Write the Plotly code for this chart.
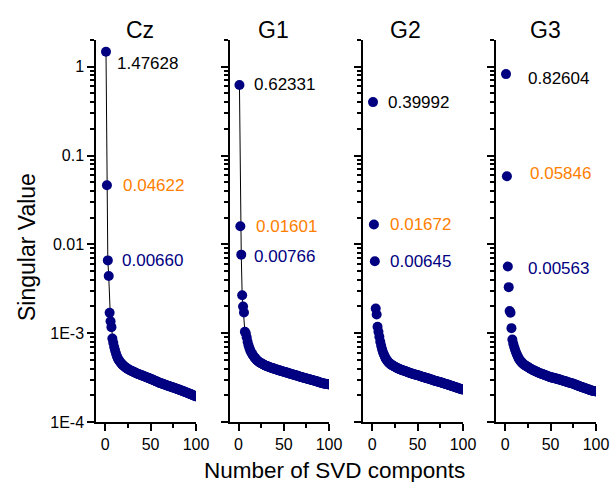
import math
import plotly.graph_objects as go

# ---------------- data ----------------
panel_names = ["Cz", "G1", "G2", "G3"]

cz_head = [1.47628, 0.04622, 0.00660, 0.0044, 0.0017, 0.00136, 0.00117, 0.00087]
cz_tail_e4 = [7.8, 7.0, 6.4, 5.9, 5.5, 5.2, 5.0, 4.82, 4.67, 4.54,
              4.43, 4.33, 4.24, 4.16, 4.09, 4.02, 3.96, 3.90, 3.85, 3.80,
              3.76, 3.72, 3.68, 3.64, 3.60, 3.56, 3.52, 3.48, 3.45, 3.42,
              3.39, 3.36, 3.33, 3.30, 3.27, 3.24, 3.21, 3.18, 3.15, 3.12,
              3.09, 3.06, 3.03, 3.00, 2.97, 2.94, 2.91, 2.88, 2.85, 2.82,
              2.79, 2.76, 2.74, 2.72, 2.70, 2.67, 2.65, 2.63, 2.61, 2.58,
              2.56, 2.54, 2.52, 2.50, 2.48, 2.46, 2.44, 2.42, 2.40, 2.38,
              2.36, 2.34, 2.32, 2.30, 2.28, 2.26, 2.24, 2.22, 2.20, 2.18,
              2.16, 2.14, 2.12, 2.10, 2.08, 2.06, 2.04, 2.02, 2.00, 1.98,
              1.96, 1.94]

g1_head = [0.62331, 0.01601, 0.00766, 0.00267, 0.0020, 0.00171]
g1_tail_e4 = [10.4, 10.0, 9.0, 8.0, 7.3, 6.8, 6.4, 6.1, 5.85, 5.65,
              5.45, 5.3, 5.15, 5.0, 4.9, 4.8, 4.72, 4.65, 4.58, 4.52,
              4.46, 4.41, 4.36, 4.31, 4.27, 4.23, 4.19, 4.15, 4.11, 4.08,
              4.05, 4.02, 3.99, 3.96, 3.93, 3.90, 3.87, 3.84, 3.81, 3.79,
              3.76, 3.73, 3.71, 3.68, 3.65, 3.63, 3.60, 3.58, 3.55, 3.53,
              3.50, 3.48, 3.45, 3.43, 3.40, 3.38, 3.36, 3.33, 3.31, 3.29,
              3.26, 3.24, 3.22, 3.20, 3.17, 3.15, 3.13, 3.11, 3.09, 3.07,
              3.05, 3.03, 3.01, 2.99, 2.97, 2.95, 2.93, 2.91, 2.89, 2.87,
              2.85, 2.83, 2.81, 2.79, 2.77, 2.75, 2.73, 2.71, 2.70, 2.69,
              2.68, 2.67, 2.66, 2.65]

g2_head = [0.39992, 0.01672, 0.00645, 0.0019, 0.00162]
g2_tail_e4 = [11.8, 10.4, 9.1, 8.0, 7.2, 6.6, 6.1, 5.75, 5.45, 5.2,
              5.0, 4.85, 4.7, 4.6, 4.5, 4.43, 4.37, 4.3, 4.24, 4.18,
              4.13, 4.08, 4.03, 3.99, 3.95, 3.91, 3.87, 3.84, 3.81, 3.78,
              3.75, 3.72, 3.69, 3.65, 3.62, 3.59, 3.56, 3.53, 3.50, 3.47,
              3.45, 3.42, 3.40, 3.38, 3.37, 3.34, 3.31, 3.29, 3.26, 3.24,
              3.21, 3.19, 3.17, 3.14, 3.12, 3.10, 3.08, 3.05, 3.03, 3.01,
              2.99, 2.96, 2.94, 2.92, 2.90, 2.88, 2.86, 2.84, 2.82, 2.80,
              2.78, 2.76, 2.74, 2.72, 2.70, 2.68, 2.66, 2.64, 2.62, 2.60,
              2.58, 2.56, 2.54, 2.52, 2.50, 2.48, 2.46, 2.44, 2.42, 2.40,
              2.38, 2.36, 2.34, 2.33, 2.32]

g3_head = [0.82604, 0.05846, 0.00563, 0.0033, 0.00178, 0.0017, 0.00114, 0.00085]
g3_tail_e4 = [7.6, 7.0, 6.5, 6.1, 5.75, 5.45, 5.2, 5.0, 4.85, 4.72,
              4.6, 4.5, 4.42, 4.35, 4.28, 4.22, 4.16, 4.10, 4.04, 3.98,
              3.93, 3.88, 3.83, 3.79, 3.75, 3.71, 3.67, 3.63, 3.59, 3.55,
              3.52, 3.49, 3.46, 3.43, 3.40, 3.37, 3.34, 3.31, 3.28, 3.25,
              3.22, 3.20, 3.18, 3.16, 3.14, 3.12, 3.10, 3.08, 3.06, 3.04,
              3.02, 3.00, 2.98, 2.96, 2.94, 2.92, 2.90, 2.87, 2.85, 2.83,
              2.81, 2.79, 2.77, 2.75, 2.73, 2.71, 2.69, 2.66, 2.64, 2.62,
              2.59, 2.57, 2.55, 2.53, 2.50, 2.48, 2.46, 2.44, 2.42, 2.40,
              2.38, 2.36, 2.34, 2.32, 2.30, 2.28, 2.26, 2.25, 2.24, 2.23,
              2.22, 2.21]

label_texts = {
    "Cz": ["1.47628", "0.04622", "0.00660"],
    "G1": ["0.62331", "0.01601", "0.00766"],
    "G2": ["0.39992", "0.01672", "0.00645"],
    "G3": ["0.82604", "0.05846", "0.00563"],
}

y_tick_vals = [1e-4, 1e-3, 1e-2, 1e-1, 1]
y_tick_text = ["1E-4", "1E-3", "0.01", "0.1", "1"]
x_tick_vals = [0, 50, 100]
x_minor_vals = [25, 75]

# ---------------- styling ----------------
FONT = "Liberation Sans, Arial, sans-serif"
NAVY = "#000080"
ORANGE = "#FF8000"
label_colors = ["#000000", ORANGE, NAVY]
draw_line = {"Cz": True, "G1": True, "G2": False, "G3": False}

W, H = 610, 482
x_dom_px = [(96, 196), (229.5, 329), (363, 463), (496, 596)]
y_dom = [1 - 422 / H, 1 - 40 / H]
title_x_px = [140, 273, 405, 545]
# label offsets (xshift, yshift) for each of three labels per panel
label_shifts = {
    "Cz": [(9, -12), (15, 0), (14, 0)],
    "G1": [(13, 0), (15, 0), (13, -2)],
    "G2": [(13, 0), (15, 0), (15, 0)],
    "G3": [(20, -4), (22, 3), (20, -2)],
}

series = {
    "Cz": cz_head + [v * 1e-4 for v in cz_tail_e4],
    "G1": g1_head + [v * 1e-4 for v in g1_tail_e4],
    "G2": g2_head + [v * 1e-4 for v in g2_tail_e4],
    "G3": g3_head + [v * 1e-4 for v in g3_tail_e4],
}

y_minor = [k * 10 ** d for d in range(-4, 1) for k in range(2, 10) if k * 10 ** d <= 2]

fig = go.Figure()
annotations = []
layout = dict(
    width=W, height=H,
    margin=dict(l=0, r=0, t=0, b=0),
    paper_bgcolor="white", plot_bgcolor="white",
    showlegend=False,
    font=dict(family=FONT, color="black"),
)

for i, name in enumerate(panel_names):
    vals = series[name]
    xs = list(range(1, len(vals) + 1))
    sfx = "" if i == 0 else str(i + 1)
    fig.add_trace(go.Scatter(
        x=xs, y=vals,
        mode="lines+markers" if draw_line[name] else "markers",
        line=dict(color="black", width=1),
        marker=dict(color=NAVY, size=10, line=dict(width=0)),
        xaxis="x" + sfx, yaxis="y" + sfx,
        cliponaxis=True,
    ))
    x0, x1 = x_dom_px[i]
    layout["xaxis" + sfx] = dict(
        domain=[x0 / W, x1 / W], anchor="y" + sfx,
        range=[-10, 100], showgrid=False, zeroline=False,
        showline=True, linecolor="black", linewidth=1.5,
        ticks="outside", ticklen=7, tickwidth=1.5, tickcolor="black",
        tickmode="array", tickvals=x_tick_vals,
        tickfont=dict(size=16, family=FONT, color="black"),
        minor=dict(ticks="outside", ticklen=4, tickwidth=1.5, tickcolor="black",
                   tickmode="array", tickvals=x_minor_vals, showgrid=False),
        automargin=False, fixedrange=True,
    )
    layout["yaxis" + sfx] = dict(
        domain=y_dom, anchor="x" + sfx, type="log",
        range=[-4, math.log10(2)], showgrid=False, zeroline=False,
        showline=True, linecolor="black", linewidth=1.5,
        ticks="outside", ticklen=7, tickwidth=1.5, tickcolor="black",
        tickmode="array", tickvals=y_tick_vals, ticktext=y_tick_text,
        showticklabels=(i == 0),
        tickfont=dict(size=16, family=FONT, color="black"),
        minor=dict(ticks="outside", ticklen=4, tickwidth=1.5, tickcolor="black",
                   tickmode="array", tickvals=y_minor, showgrid=False),
        automargin=False, fixedrange=True,
    )
    # panel title
    annotations.append(dict(
        text=name, xref="paper", yref="paper",
        x=title_x_px[i] / W, y=1 - 30 / H, xanchor="center", yanchor="middle",
        showarrow=False, font=dict(size=23, family=FONT, color="black"),
    ))
    # value labels
    for j, txt in enumerate(label_texts[name]):
        xs_, ys_ = label_shifts[name][j]
        annotations.append(dict(
            text=txt, xref="x" + sfx, yref="y" + sfx,
            x=1, y=math.log10(vals[j]), xanchor="left", yanchor="middle",
            xshift=xs_, yshift=ys_, showarrow=False,
            font=dict(size=17, family=FONT, color=label_colors[j]),
        ))

annotations.append(dict(
    text="Number of SVD componts", xref="paper", yref="paper",
    x=334 / W, y=1 - 470 / H, xanchor="center", yanchor="middle",
    showarrow=False, font=dict(size=22.5, family=FONT, color="black"),
))
annotations.append(dict(
    text="Singular Value", xref="paper", yref="paper",
    x=27 / W, y=1 - 247 / H, xanchor="center", yanchor="middle", textangle=-90,
    showarrow=False, font=dict(size=23, family=FONT, color="black"),
))

layout["annotations"] = annotations
fig.update_layout(**layout)
fig.write_html("out.html", config={"displayModeBar": False})
